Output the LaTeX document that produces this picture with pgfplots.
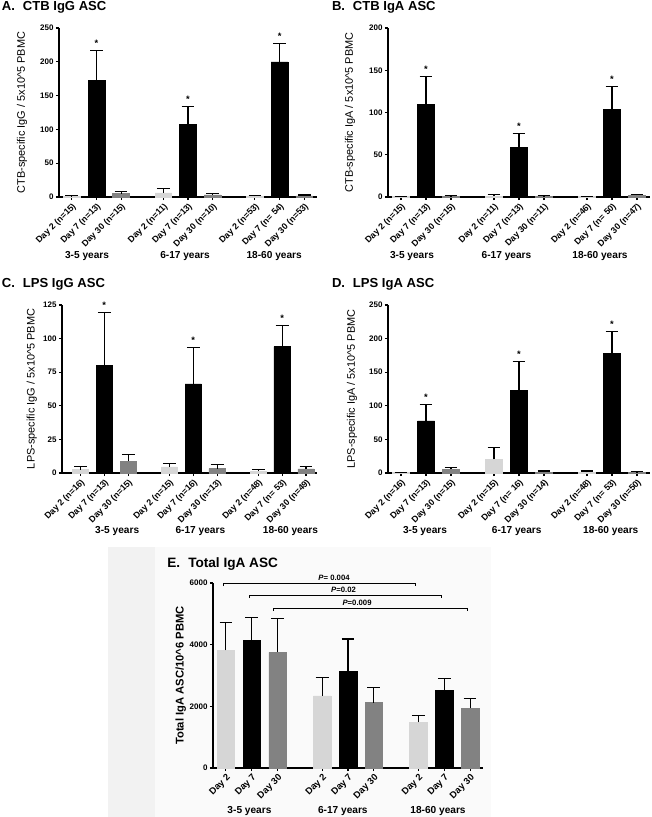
\documentclass[border=0pt]{standalone}
\usepackage{fontspec}
\setmainfont{Liberation Sans}
\usepackage{pgfplots}
\pgfplotsset{compat=1.18}
\definecolor{dtwo}{HTML}{D6D6D6}
\definecolor{dseven}{HTML}{000000}
\definecolor{dthirty}{HTML}{828282}
\pgfplotsset{
 gp/.style={
  scale only axis,
  axis lines*=left,
  axis line style={line width=0.9pt},
  ymin=0,
  tick align=outside,
  major tick length=2.4pt,
  tick style={black, line width=0.8pt},
  /pgf/number format/assume math mode=true,
  /pgf/number format/1000 sep={},
  yticklabel style={font=\bfseries\fontsize{6}{7}\selectfont, inner sep=1.5pt},
  xticklabel style={rotate=45, anchor=north east, font=\bfseries\fontsize{6.6}{8}\selectfont, inner sep=1pt},
  ylabel style={anchor=center, font=\fontsize{8.2}{10}\selectfont},
  clip=false,
  ybar, bar width=0.68, bar shift=0pt,
  xtick={0,1,2,3.72,4.72,5.72,7.44,8.44,9.44},
  error bars/y dir=plus, error bars/y explicit,
  error bars/error bar style={draw=black, line width=0.8pt},
  error bars/error mark options={draw=black, line width=0.8pt, mark size=4.8pt, rotate=90},
 },
 b2/.style={fill=dtwo, draw=dtwo},
 b7/.style={fill=dseven, draw=dseven},
 b30/.style={fill=dthirty, draw=dthirty},
}
\tikzset{
 star/.style={font=\bfseries\fontsize{7}{8}\selectfont, yshift=5.5pt},
 grp/.style={font=\bfseries\fontsize{7.6}{9}\selectfont},
 ttl/.style={anchor=base west, font=\bfseries\fontsize{9.8}{11}\selectfont, inner sep=0pt},
}
\begin{document}
\begin{tikzpicture}
\fill[black!5] (81pt,-410.25pt) rectangle (116.25pt,-612.75pt);
\fill[black!2] (116.25pt,-410.25pt) rectangle (368.25pt,-612.75pt);

% Titles
\node[ttl] at (1.3pt,-7.6pt) {A.\hspace{0.6em}CTB IgG ASC};
\node[ttl] at (248.8pt,-7.6pt) {B.\hspace{0.6em}CTB IgA ASC};
\node[ttl] at (1.3pt,-215.25pt) {C.\hspace{0.6em}LPS IgG ASC};
\node[ttl] at (248.8pt,-215.25pt) {D.\hspace{0.6em}LPS IgA ASC};
\node[ttl, font=\bfseries\fontsize{10.2}{12}\selectfont] at (125.25pt,-425.25pt) {E.\hspace{0.6em}Total IgA ASC};

% ---------- A ----------
\begin{axis}[gp, at={(44.25pt,-147.75pt)}, anchor=south west,
  width=193.5pt, height=126.75pt,
  xmin=-0.52, xmax=9.96, ymax=250, ytick={0,50,100,150,200,250},
  xticklabels={Day 2 (n=15),Day 7 (n=13),Day 30 (n=15),Day 2 (n=11),Day 7 (n=13),Day 30 (n=10),Day 2 (n=53),Day 7 (n= 54),Day 30 (n=53)},
  ylabel={CTB-specific IgG / 5x10\textasciicircum 5 PBMC},
  ylabel style={at={(axis description cs:-0.143,0.5)}}]
\addplot[b2] coordinates {(0,1) +- (0,1) (3.72,6) +- (0,7) (7.44,1) +- (0,1.5)};
\addplot[b7] coordinates {(1,173) +- (0,44) (4.72,107) +- (0,27) (8.44,200) +- (0,27)};
\addplot[b30] coordinates {(2,5) +- (0,3.5) (5.72,3) +- (0,2.5) (9.44,1.5) +- (0,1.5)};
\node[star] at (axis cs:1,217) {*};
\node[star] at (axis cs:4.72,134) {*};
\node[star] at (axis cs:8.44,227) {*};
\node[grp, yshift=-44.25pt] at (axis cs:0.62,0) {3-5 years};
\node[grp, yshift=-44.25pt] at (axis cs:4.6,0) {6-17 years};
\node[grp, yshift=-44.25pt] at (axis cs:8.22,0) {18-60 years};
\end{axis}

% ---------- B ----------
\begin{axis}[gp, at={(291pt,-147.75pt)}, anchor=south west,
  width=196.5pt, height=126.75pt,
  xmin=-0.52, xmax=9.96, ymax=200, ytick={0,50,100,150,200},
  xticklabels={Day 2 (n=15),Day 7 (n=13),Day 30 (n=15),Day 2 (n=11),Day 7 (n=13),Day 30 (n=11),Day 2 (n=46),Day 7 (n= 50),Day 30 (n=47)},
  ylabel={CTB-specific IgA / 5x10\textasciicircum 5 PBMC},
  ylabel style={at={(axis description cs:-0.145,0.5)}}]
\addplot[b2] coordinates {(0,0.5) +- (0,0.5) (3.72,1) +- (0,2) (7.44,0.5) +- (0,0.5)};
\addplot[b7] coordinates {(1,110) +- (0,33) (4.72,59) +- (0,16) (8.44,104) +- (0,27)};
\addplot[b30] coordinates {(2,1) +- (0,0.6) (5.72,1) +- (0,0.6) (9.44,2) +- (0,1.5)};
\node[star] at (axis cs:1,143) {*};
\node[star] at (axis cs:4.72,75) {*};
\node[star] at (axis cs:8.44,131) {*};
\node[grp, yshift=-44.25pt] at (axis cs:0.44,0) {3-5 years};
\node[grp, yshift=-44.25pt] at (axis cs:4.22,0) {6-17 years};
\node[grp, yshift=-44.25pt] at (axis cs:7.96,0) {18-60 years};
\end{axis}

% ---------- C ----------
\begin{axis}[gp, at={(46.5pt,-354.75pt)}, anchor=south west,
  width=191.25pt, height=126pt,
  xmin=-0.77, xmax=9.9, ymax=125, ytick={0,25,50,75,100,125},
  xticklabels={Day 2 (n=16),Day 7 (n=13),Day 30 (n=15),Day 2 (n=15),Day 7 (n=16),Day 30 (n=13),Day 2 (n=48),Day 7 (n= 53),Day 30 (n=49)},
  ylabel={LPS-specific IgG / 5x10\textasciicircum 5 PBMC},
  ylabel style={at={(axis description cs:-0.118,0.5)}}]
\addplot[b2] coordinates {(0,2.5) +- (0,2) (3.72,4.5) +- (0,2.9) (7.44,1.2) +- (0,1.3)};
\addplot[b7] coordinates {(1,80) +- (0,39.5) (4.72,66.3) +- (0,27) (8.44,94) +- (0,16)};
\addplot[b30] coordinates {(2,8.7) +- (0,5.3) (5.72,3.2) +- (0,3.2) (9.44,3) +- (0,1.5)};
\node[star] at (axis cs:1,119.5) {*};
\node[star] at (axis cs:4.72,93.3) {*};
\node[star] at (axis cs:8.44,110) {*};
\node[grp, yshift=-43.5pt] at (axis cs:1.54,0) {3-5 years};
\node[grp, yshift=-43.5pt] at (axis cs:5.02,0) {6-17 years};
\node[grp, yshift=-43.5pt] at (axis cs:8.79,0) {18-60 years};
\end{axis}

% ---------- D ----------
\begin{axis}[gp, at={(291pt,-354.75pt)}, anchor=south west,
  width=196.5pt, height=126pt,
  xmin=-0.52, xmax=9.96, ymax=250, ytick={0,50,100,150,200,250},
  xticklabels={Day 2 (n=16),Day 7 (n=13),Day 30 (n=15),Day 2 (n=15),Day 7 (n= 16),Day 30 (n=14),Day 2 (n=48),Day 7 (n= 53),Day 30 (n=50)},
  ylabel={LPS-specific IgA / 5x10\textasciicircum 5 PBMC},
  ylabel style={at={(axis description cs:-0.137,0.5)}}]
\addplot[b2] coordinates {(0,0.5) +- (0,0.5) (3.72,20.4) +- (0,17) (7.44,1) +- (0,2)};
\addplot[b7] coordinates {(1,77.5) +- (0,25) (4.72,123) +- (0,43) (8.44,178) +- (0,32)};
\addplot[b30] coordinates {(2,5.5) +- (0,3) (5.72,1) +- (0,2) (9.44,1) +- (0,1)};
\node[star] at (axis cs:1,102.5) {*};
\node[star] at (axis cs:4.72,166) {*};
\node[star] at (axis cs:8.44,210) {*};
\node[grp, yshift=-43.5pt] at (axis cs:0.96,0) {3-5 years};
\node[grp, yshift=-43.5pt] at (axis cs:4.63,0) {6-17 years};
\node[grp, yshift=-43.5pt] at (axis cs:8.39,0) {18-60 years};
\end{axis}

% ---------- E ----------
\begin{axis}[gp, at={(159.75pt,-576pt)}, anchor=south west,
  width=202.5pt, height=138.75pt,
  xmin=-0.5, xmax=9.94, ymax=6000, ytick={0,2000,4000,6000},
  xticklabels={Day 2,Day 7,Day 30,Day 2,Day 7,Day 30,Day 2,Day 7,Day 30},
  xticklabel style={font=\bfseries\fontsize{7}{8}\selectfont},
  ylabel={Total IgA ASC/10\textasciicircum 6 PBMC},
  ylabel style={at={(axis description cs:-0.119,0.5)}, font=\bfseries\fontsize{8.4}{10}\selectfont}]
\addplot[b2] coordinates {(0,3815) +- (0,890) (3.72,2337) +- (0,610) (7.44,1478) +- (0,230)};
\addplot[b7] coordinates {(1,4130) +- (0,750) (4.72,3130) +- (0,1055) (8.44,2511) +- (0,380)};
\addplot[b30] coordinates {(2,3750) +- (0,1090) (5.72,2120) +- (0,500) (9.44,1935) +- (0,315)};
\draw[line width=0.7pt] (axis cs:-0.1,5900) -- (axis cs:-0.1,6000) -- (axis cs:7.34,6000) -- (axis cs:7.34,5900);
\draw[line width=0.7pt] (axis cs:0.9,5510) -- (axis cs:0.9,5610) -- (axis cs:8.34,5610) -- (axis cs:8.34,5510);
\draw[line width=0.7pt] (axis cs:1.84,5090) -- (axis cs:1.84,5190) -- (axis cs:9.34,5190) -- (axis cs:9.34,5090);
\node[font=\bfseries\fontsize{5.8}{7}\selectfont, anchor=base] at (axis cs:4.18,6090) {\textit{P}= 0.004};
\node[font=\bfseries\fontsize{5.8}{7}\selectfont, anchor=base] at (axis cs:4.55,5680) {\textit{P}=0.02};
\node[font=\bfseries\fontsize{5.8}{7}\selectfont, anchor=base] at (axis cs:5.07,5260) {\textit{P}=0.009};
\node[grp, yshift=-32.25pt] at (axis cs:0.91,0) {3-5 years};
\node[grp, yshift=-32.25pt] at (axis cs:4.52,0) {6-17 years};
\node[grp, yshift=-32.25pt] at (axis cs:8.2,0) {18-60 years};
\end{axis}
\pgfresetboundingbox
\path[use as bounding box] (0,0) rectangle (488.25pt,-612.75pt);
\end{tikzpicture}
\end{document}
